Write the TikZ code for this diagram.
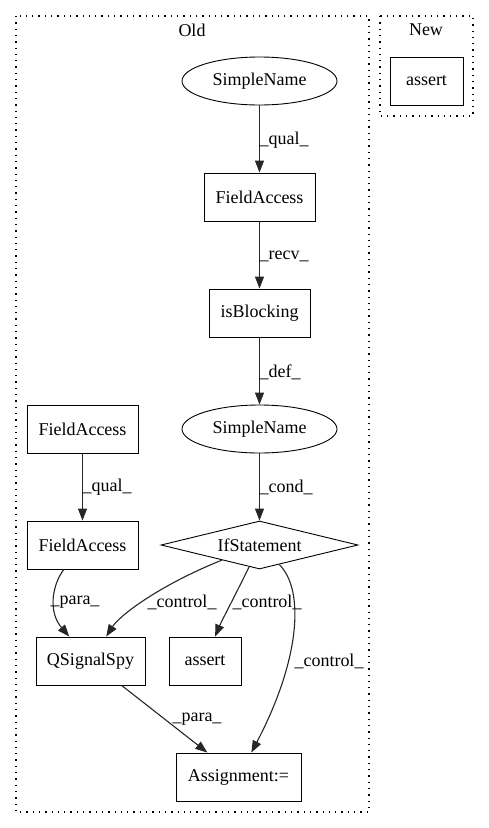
\documentclass[tikz,border=0pt]{standalone}
\usepackage{fontspec}
\setmainfont{Liberation Serif}
\usetikzlibrary{shapes.geometric,arrows.meta}
\begin{document}
\begin{tikzpicture}[x=1pt,y=-1pt,
  every node/.style={font=\fontsize{18}{21}\selectfont, inner sep=0pt},
  box/.style={draw, line width=0.9pt, minimum width=#1, minimum height=48pt},
  oval/.style={draw, ellipse, line width=0.9pt, minimum width=155pt, minimum height=48pt},
  cond/.style={draw, diamond, aspect=4.1, line width=0.9pt, minimum width=197pt, minimum height=48pt},
  edge/.style={draw, line width=1.1pt, color=black!85, -{Triangle[length=12pt,width=9pt]}},
  elabel/.style={anchor=west},
  cluster/.style={draw, line width=1.2pt, dash pattern=on 1.3pt off 5pt}]
\useasboundingbox (0,0) rectangle (489,828);
% clusters
\draw[cluster] (16,16) rectangle (369,812);
\draw[cluster] (380,16) rectangle (473,116);
\node (oldlbl) at (192,30) {Old};
\node (newlbl) at (426,30) {New};
% nodes
\node[box=73pt] (newassert) at (426.5,81) {assert};
\node[oval] (sn1) at (259.5,81) {SimpleName};
\node[box=111pt] (fa1) at (259.5,197) {FieldAccess};
\node[box=101pt] (isb) at (259.5,313) {isBlocking};
\node[oval] (sn2) at (259.5,429) {SimpleName};
\node[box=111pt] (fa2) at (82.5,429) {FieldAccess};
\node[box=111pt] (fa3) at (82.5,545) {FieldAccess};
\node[cond] (ifs) at (259.5,545) {IfStatement};
\node[box=109pt] (qs) at (90.5,661) {QSignalSpy};
\node[box=72pt] (as) at (205,661) {assert};
\node[box=125pt] (asg) at (238.5,777) {Assignment:=};
% edges
\draw[edge] (sn1) -- (fa1);
\node[elabel] (l1) at (259.5,140) {\_qual\_};
\draw[edge] (fa1) -- (isb);
\node[elabel] (l2) at (259.5,256) {\_recv\_};
\draw[edge] (isb) -- (sn2);
\node[elabel] (l3) at (259.5,372) {\_def\_};
\draw[edge] (sn2) -- (ifs);
\node[elabel] (l4) at (259.5,487) {\_cond\_};
\draw[edge] (fa2) -- (fa3);
\node[elabel] (l5) at (82.5,487) {\_qual\_};
\draw[edge] (fa3) .. controls (52,585) and (48,612) .. (qs);
\node (l6) at (75,602) {\_para\_};
\draw[edge] (ifs) .. controls (160,585) and (120,615) .. (qs);
\node (l7) at (182,602) {\_control\_};
\draw[edge] (ifs) .. controls (238,590) and (222,620) .. (as);
\node (l8) at (267,602) {\_control\_};
\draw[edge] (ifs) .. controls (305,590) and (300,660) .. (asg);
\node (l9) at (329,661) {\_control\_};
\draw[edge] (qs) -- (asg);
\node (l10) at (197,719) {\_para\_};
\end{tikzpicture}
\end{document}
